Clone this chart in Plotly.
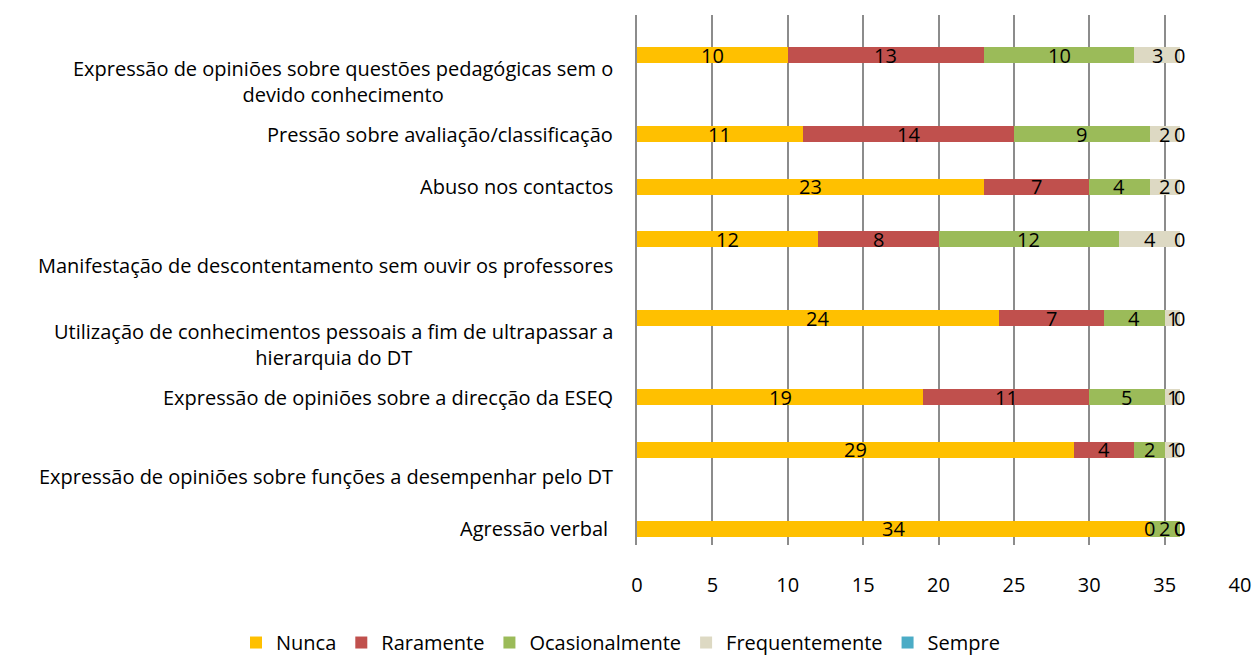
import plotly.graph_objects as go

categories = [
    "Expressão de opiniões sobre questões pedagógicas sem o<br>devido conhecimento",
    "Pressão sobre avaliação/classificação",
    "Abuso nos contactos",
    "Manifestação de descontentamento sem ouvir os professores",
    "Utilização de conhecimentos pessoais a fim de ultrapassar a<br>hierarquia do DT",
    "Expressão de opiniões sobre a direcção da ESEQ",
    "Expressão de opiniões sobre funções a desempenhar pelo DT",
    "Agressão verbal ",
]
series_names = ["Nunca", "Raramente", "Ocasionalmente", "Frequentemente", "Sempre"]
nunca = [10, 11, 23, 12, 24, 19, 29, 34]
raramente = [13, 14, 7, 8, 7, 11, 4, 0]
ocasionalmente = [10, 9, 4, 12, 4, 5, 2, 2]
frequentemente = [3, 2, 2, 4, 1, 1, 1, 0]
sempre = [0, 0, 0, 0, 0, 0, 0, 0]
x_ticks = [0, 5, 10, 15, 20, 25, 30, 35, 40]

# layout slots (vertical placement as in the original rendering)
bar_slots = [0, 3, 5, 7, 10, 13, 15, 18]
label_slots = [1, 3, 5, 8, 11, 13, 16, 18]

colors = ["#FFC000", "#C0504D", "#9BBB59", "#DDD9C3", "#4BACC6"]
FONT = "Open Sans, Lato, sans-serif"
FS = 20

fig = go.Figure()
all_series = [nunca, raramente, ocasionalmente, frequentemente, sempre]
for name, vals, col in zip(series_names, all_series, colors):
    fig.add_trace(go.Bar(
        name=name, x=vals, y=bar_slots, orientation="h",
        marker=dict(color=col, line=dict(width=0)), width=0.6,
        hoverinfo="x+name",
    ))

annotations = []
cum = [0] * len(categories)
for vals in all_series:
    for i, v in enumerate(vals):
        annotations.append(dict(
            x=cum[i] + v / 2, y=bar_slots[i], xref="x", yref="y",
            text=str(v), showarrow=False,
            font=dict(family=FONT, size=FS, color="black"),
        ))
        cum[i] += v

for cat, ls in zip(categories, label_slots):
    annotations.append(dict(
        x=0, y=ls, xref="paper", yref="y", xanchor="right", xshift=-22,
        text=cat, showarrow=False, align="center",
        font=dict(family=FONT, size=FS, color="black"),
    ))

fig.update_layout(
    barmode="stack",
    width=1256, height=657,
    margin=dict(l=637, r=16, t=15, b=112, autoexpand=False),
    plot_bgcolor="white", paper_bgcolor="white",
    font=dict(family=FONT, size=FS, color="black"),
    showlegend=True,
    legend=dict(orientation="h", x=-0.665, xanchor="left", y=-0.184, yanchor="middle",
                font=dict(family=FONT, size=FS), traceorder="normal",
                itemwidth=30, itemsizing="constant"),
    annotations=annotations,
    bargap=0,
)
fig.update_xaxes(range=[0, 40], tickvals=x_ticks, showgrid=True, gridcolor="#8C8C8C",
                 gridwidth=1.5, zeroline=False, showline=False, ticks="",
                 ticklabelstandoff=26, tickfont=dict(family=FONT, size=FS))
fig.update_yaxes(range=[18.61, -1.52], showticklabels=False, showgrid=False,
                 zeroline=False, showline=True, linecolor="#8C8C8C", linewidth=1.5)

fig.write_html("out.html", config={"displayModeBar": False},
               post_script="document.body.style.margin='0';document.body.style.overflow='hidden';")
